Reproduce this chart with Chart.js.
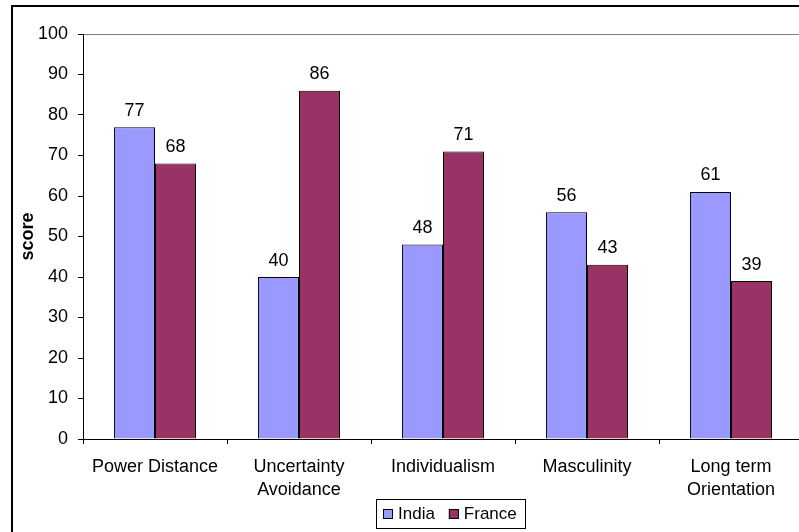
<!DOCTYPE html>
<html>
<head>
<meta charset="utf-8">
<script src="https://cdn.jsdelivr.net/npm/chart.js@4/dist/chart.umd.min.js"></script>
<style>
  html, body { margin: 0; padding: 0; background: #fff; overflow: hidden; }
  #wrap { position: relative; width: 830px; height: 545px; }
</style>
</head>
<body>
<div id="wrap"><canvas id="c" width="830" height="545"></canvas></div>
<script>
// Hofstede cultural dimension scores
const categories = [["Power Distance"], ["Uncertainty", "Avoidance"], ["Individualism"], ["Masculinity"], ["Long term", "Orientation"]];
const seriesNames = ["India", "France"];
const indiaScores = [77, 40, 48, 56, 61];
const franceScores = [68, 86, 71, 43, 39];
const yTickValues = [0, 10, 20, 30, 40, 50, 60, 70, 80, 90, 100];
const axisTitle = "score";

const FONT = '"Liberation Sans", Arial, Helvetica, sans-serif';

// White page, outer frame and the plot-area top edge
const framePlugin = {
  id: 'frame',
  beforeDraw(chart) {
    const ctx = chart.ctx;
    const a = chart.chartArea;
    ctx.save();
    ctx.fillStyle = '#fff';
    ctx.fillRect(0, 0, chart.width, chart.height);
    ctx.strokeStyle = '#000';
    ctx.lineWidth = 2;
    ctx.strokeRect(12, 6, chart.width + 20, chart.height + 20);
    ctx.strokeStyle = '#808080';
    ctx.lineWidth = 1;
    ctx.beginPath();
    ctx.moveTo(a.left, a.top + 0.5);
    ctx.lineTo(a.right, a.top + 0.5);
    ctx.stroke();
    ctx.restore();
  }
};

// Value above each bar
const valueLabelPlugin = {
  id: 'valueLabels',
  afterDatasetsDraw(chart) {
    const ctx = chart.ctx;
    ctx.save();
    ctx.font = '18px ' + FONT;
    ctx.fillStyle = '#000';
    ctx.textAlign = 'center';
    ctx.textBaseline = 'alphabetic';
    chart.data.datasets.forEach((ds, i) => {
      chart.getDatasetMeta(i).data.forEach((bar, j) => {
        ctx.fillText(String(ds.data[j]), bar.x, bar.y - 11.5);
      });
    });
    ctx.restore();
  }
};

// Boxed legend below the axis
const boxedLegendPlugin = {
  id: 'boxedLegend',
  afterDraw(chart) {
    const ctx = chart.ctx;
    const sets = chart.data.datasets;
    ctx.save();
    ctx.font = '17px ' + FONT;
    const marker = 10, gapText = 5, gapItems = 14, padL = 7, padR = 8;
    const widths = sets.map(ds => ctx.measureText(ds.label).width);
    let total = padL + padR;
    widths.forEach((w, i) => { total += marker + gapText + w + (i ? gapItems : 0); });
    const centerX = 450, top = 499, h = 29;
    const left = Math.round(centerX - total / 2);
    ctx.strokeStyle = '#000';
    ctx.lineWidth = 1;
    ctx.strokeRect(left + 0.5, top + 0.5, Math.round(total), h);
    let x = left + padL;
    const midY = top + h / 2 + 0.5;
    sets.forEach((ds, i) => {
      if (i) x += gapItems;
      ctx.fillStyle = ds.backgroundColor;
      ctx.fillRect(x, midY - 5, marker, marker);
      ctx.strokeStyle = '#000';
      ctx.strokeRect(x + 0.5, midY - 4.5, marker - 1, marker - 1);
      x += marker + gapText;
      ctx.fillStyle = '#000';
      ctx.textBaseline = 'middle';
      ctx.textAlign = 'left';
      ctx.fillText(ds.label, x, midY);
      x += widths[i];
    });
    ctx.restore();
  }
};

new Chart(document.getElementById('c'), {
  type: 'bar',
  data: {
    labels: categories,
    datasets: [
      { label: seriesNames[0], data: indiaScores, backgroundColor: '#9999FF', borderColor: '#000', borderWidth: 1 },
      { label: seriesNames[1], data: franceScores, backgroundColor: '#993366', borderColor: '#000', borderWidth: 1 }
    ]
  },
  options: {
    responsive: false,
    animation: false,
    devicePixelRatio: 1,
    categoryPercentage: 0.57,
    barPercentage: 1.0,
    layout: { padding: { left: 0, top: 34, right: 27, bottom: 0 } },
    plugins: {
      legend: { display: false },
      tooltip: { enabled: false }
    },
    scales: {
      x: {
        afterFit: s => { s.height = 106; },
        border: { display: true, color: '#000', width: 1 },
        grid: { display: true, offset: true, drawOnChartArea: false, drawTicks: true, tickLength: 5, tickColor: '#000' },
        ticks: { padding: 11, color: '#000', autoSkip: false, maxRotation: 0, font: { family: FONT, size: 18, lineHeight: 1.3 } }
      },
      y: {
        min: 0,
        max: 100,
        afterBuildTicks: s => { s.ticks = yTickValues.map(v => ({ value: v })); },
        afterFit: s => { s.width = 83; },
        border: { display: true, color: '#000', width: 1 },
        grid: { display: true, drawOnChartArea: false, drawTicks: true, tickLength: 5, tickColor: '#000' },
        ticks: { padding: 10, color: '#000', font: { family: FONT, size: 18 } },
        title: { display: true, text: axisTitle, color: '#000', padding: { top: 17, bottom: 0 }, font: { family: FONT, size: 18, weight: 'bold' } }
      }
    }
  },
  plugins: [framePlugin, valueLabelPlugin, boxedLegendPlugin]
});
</script>
</body>
</html>
